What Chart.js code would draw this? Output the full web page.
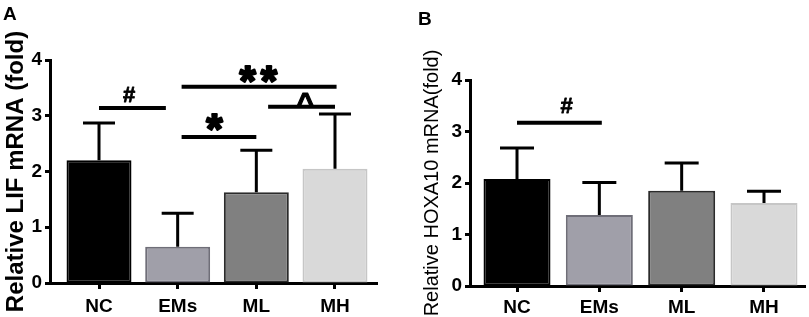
<!DOCTYPE html>
<html><head><meta charset="utf-8">
<script src="https://cdn.jsdelivr.net/npm/chart.js@4.4.0/dist/chart.umd.min.js"></script>
<style>
html,body{margin:0;padding:0;background:#fff;width:809px;height:317px;overflow:hidden;}
.p{position:absolute;top:0;}
.lbl{position:absolute;font:bold 19px "Liberation Sans",Arial,sans-serif;color:#000;line-height:19px;}
</style></head><body>
<canvas id="ca" class="p" style="left:0" width="400" height="317"></canvas>
<canvas id="cb" class="p" style="left:400px" width="409" height="317"></canvas>
<div class="lbl" style="left:3px;top:4px">A</div>
<div class="lbl" style="left:418px;top:9px">B</div>
<script>
const categories = ['NC', 'EMs', 'ML', 'MH'];
const tickValues = [0, 1, 2, 3, 4];
const lifMean = [2.20, 0.65, 1.63, 2.05];
const lifErr = [0.67, 0.60, 0.75, 0.98];
const hoxMean = [2.08, 1.38, 1.85, 1.61];
const hoxErr = [0.60, 0.63, 0.54, 0.23];
const barFill = ['#000000', '#a09fa9', '#808080', '#d9d9d9'];
const barEdge = ['#000000', '#6f6e78', '#2b2b2b', '#c6c6c6'];
// significance brackets: [from category, to category, level]
const lifBrackets = [[0, 0.85, 3.14], [1.05, 3.02, 3.52], [1.05, 2.0, 2.62], [2.15, 3.0, 3.16]];
const lifMarks = [['#', 0.38, 3.39], ['**', 2.03, 3.74], ['*', 1.47, 2.89], ['^', 2.62, 3.29]];
const hoxBrackets = [[0, 1.03, 3.17]];
const hoxMarks = [['#', 0.6, 3.51]];

const markFonts = {
  '#': 'bold 22px "Liberation Sans", Arial, sans-serif',
  '*': 'bold 42px "Liberation Sans", Arial, sans-serif',
  '**': 'bold 42px "Liberation Sans", Arial, sans-serif',
  '^': 'bold 30px "Liberation Sans", Arial, sans-serif'
};
const markStroke = { '#': 0.8, '*': 2.2, '**': 2.2, '^': 1.2 };

const sigPlugin = {
  id: 'sig',
  afterDatasetsDraw(chart, args, o) {
    const xs = chart.scales.x, ys = chart.scales.y, ctx = chart.ctx;
    ctx.save();
    ctx.strokeStyle = '#000';
    ctx.lineWidth = o.errWidth;
    o.mean.forEach((m, i) => {
      const x = xs.getPixelForValue(i);
      const y0 = ys.getPixelForValue(m);
      const y1 = ys.getPixelForValue(m + o.err[i]);
      ctx.beginPath();
      ctx.moveTo(x, y0); ctx.lineTo(x, y1);
      ctx.moveTo(x - o.cap, y1); ctx.lineTo(x + o.cap, y1);
      ctx.stroke();
    });
    ctx.lineWidth = o.sigWidth;
    o.brackets.forEach(b => {
      const y = ys.getPixelForValue(b[2]);
      ctx.beginPath();
      ctx.moveTo(xs.getPixelForValue(b[0]), y);
      ctx.lineTo(xs.getPixelForValue(b[1]), y);
      ctx.stroke();
    });
    ctx.fillStyle = '#000';
    ctx.textAlign = 'left';
    ctx.textBaseline = 'alphabetic';
    ctx.lineJoin = 'round';
    o.marks.forEach(mk => {
      ctx.font = markFonts[mk[0]];
      ctx.letterSpacing = mk[0] === '**' ? '5px' : '0px';
      const cx = xs.getPixelForValue(mk[1]);
      const cy = ys.getPixelForValue(mk[2]);
      const m = ctx.measureText(mk[0]);
      const w = m.actualBoundingBoxRight + m.actualBoundingBoxLeft;
      const x = cx - w / 2 + m.actualBoundingBoxLeft;
      const y = cy + (m.actualBoundingBoxAscent - m.actualBoundingBoxDescent) / 2;
      ctx.fillText(mk[0], x, y);
      ctx.lineWidth = markStroke[mk[0]];
      ctx.strokeText(mk[0], x, y);
    });
    ctx.restore();
  }
};

function makeChart(id, mean, err, brackets, marks, cfg) {
  return new Chart(document.getElementById(id), {
    type: 'bar',
    data: {
      datasets: [{
        data: mean.map((v, i) => ({ x: i, y: v })),
        backgroundColor: barFill,
        borderColor: barEdge,
        borderWidth: 2,
        borderSkipped: false,
        categoryPercentage: 1,
        barPercentage: cfg.barPct
      }]
    },
    options: {
      responsive: false,
      animation: false,
      devicePixelRatio: 1,
      layout: { padding: { top: cfg.top, right: cfg.right, left: 0, bottom: 0 } },
      plugins: {
        legend: { display: false },
        tooltip: { enabled: false },
        sig: { mean: mean, err: err, brackets: brackets, marks: marks, cap: cfg.cap, errWidth: 3, sigWidth: 4 }
      },
      scales: {
        x: {
          type: 'linear', min: cfg.xmin, max: cfg.xmax, offset: false,
          afterBuildTicks: s => { s.ticks = categories.map((c, i) => ({ value: i })); },
          ticks: {
            callback: v => categories[v],
            font: { family: '"Liberation Sans", Arial, sans-serif', size: 19, weight: 'bold' },
            color: '#000', padding: cfg.xpad, autoSkip: false, maxRotation: 0
          },
          grid: { display: true, offset: false, drawOnChartArea: false, drawTicks: true, tickLength: 6, tickWidth: 3, tickColor: '#000' },
          border: { display: true, color: '#000', width: 3 },
          afterFit: s => { s.height = cfg.xh; }
        },
        y: {
          min: 0, max: 4,
          afterBuildTicks: s => { s.ticks = tickValues.map(v => ({ value: v })); },
          ticks: {
            font: { family: '"Liberation Sans", Arial, sans-serif', size: 19, weight: 'bold' },
            color: '#000', padding: 3
          },
          grid: { display: true, drawOnChartArea: false, drawTicks: true, tickLength: 5, tickWidth: 3, tickColor: '#000' },
          border: { display: true, color: '#000', width: 3 },
          title: {
            display: true, text: cfg.title, color: '#000',
            font: cfg.titleFont, padding: { top: cfg.tpad, bottom: 0 }
          },
          afterFit: s => { s.width = cfg.yw; }
        }
      }
    },
    plugins: [sigPlugin]
  });
}

makeChart('ca', lifMean, lifErr, lifBrackets, lifMarks, {
  barPct: 0.826, top: 60, right: 23, xh: 34, yw: 50, xmin: -0.623, xmax: 3.534,
  xpad: 6, cap: 16, tpad: 2,
  title: 'Relative LIF mRNA (fold)',
  titleFont: { family: '"Liberation Sans", Arial, sans-serif', size: 24, weight: 'bold' }
});
makeChart('cb', hoxMean, hoxErr, hoxBrackets, hoxMarks, {
  barPct: 0.814, top: 80, right: 4, xh: 31, yw: 70, xmin: -0.571, xmax: 3.498,
  xpad: 4, cap: 17, tpad: 20,
  title: 'Relative HOXA10 mRNA(fold)',
  titleFont: { family: '"Liberation Sans", Arial, sans-serif', size: 20, weight: 'normal' }
});
</script>
</body></html>
